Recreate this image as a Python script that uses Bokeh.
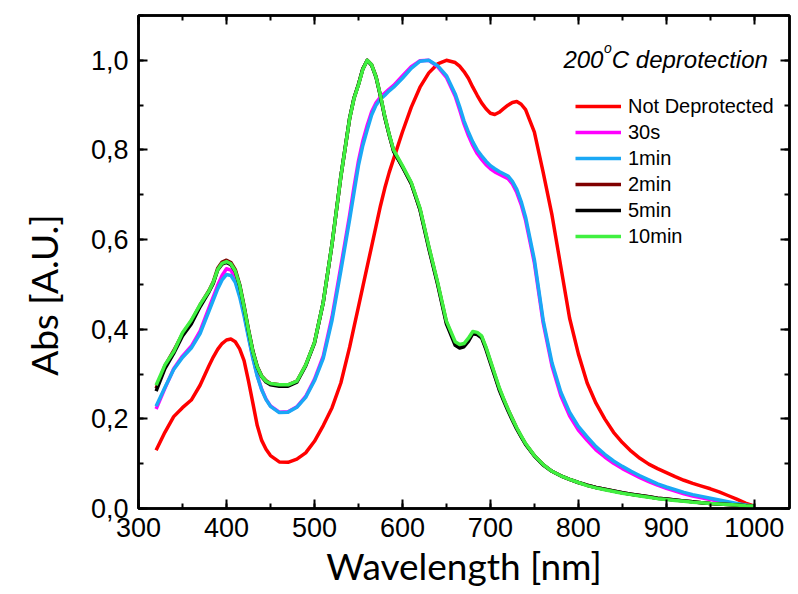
from bokeh.plotting import figure
from bokeh.embed import file_html
from bokeh.resources import INLINE
from bokeh.models import (Range1d, LinearAxis, SingleIntervalTicker,
                          CustomJSTickFormatter, Label)

# ---------------- data ----------------
wavelength = [320, 330, 340, 350, 360, 370,
              380, 385, 390, 395, 400, 405, 410, 415, 420, 425, 430, 435, 440, 445, 450,
              460, 470, 480, 490, 500, 510, 520, 530, 540,
              545, 550, 555, 560, 565, 570, 575, 580, 585, 590,
              600, 610, 620, 630, 640, 650, 660,
              665, 670, 675, 680, 685, 690, 695, 700, 705, 710, 715, 720, 725, 730, 735, 740,
              750, 760, 770, 780, 790, 800, 810, 820, 830, 840, 850, 860, 870, 880, 890,
              900, 910, 920, 930, 940, 950, 960, 970, 980, 990, 1000]

not_deprotected = [0.130, 0.170, 0.205, 0.225, 0.242, 0.275,
                   0.318, 0.338, 0.355, 0.368, 0.376, 0.378, 0.372, 0.356, 0.330, 0.285, 0.235, 0.185, 0.152, 0.132, 0.118,
                   0.104, 0.103, 0.110, 0.124, 0.150, 0.185, 0.225, 0.280, 0.360,
                   0.405, 0.450, 0.495, 0.540, 0.585, 0.630, 0.675, 0.715, 0.750, 0.780,
                   0.840, 0.895, 0.940, 0.972, 0.992, 1.000, 0.995,
                   0.987, 0.975, 0.960, 0.940, 0.922, 0.905, 0.892, 0.882, 0.879, 0.884, 0.892, 0.900, 0.906, 0.908, 0.902, 0.890,
                   0.840, 0.750, 0.655, 0.540, 0.425, 0.345, 0.280, 0.235, 0.200, 0.170, 0.147, 0.128, 0.112, 0.099, 0.089,
                   0.080, 0.071, 0.063, 0.056, 0.050, 0.044, 0.037, 0.029, 0.021, 0.012, 0.005]

s30 = [0.222, 0.268, 0.312, 0.340, 0.362, 0.396,
       0.447, 0.472, 0.498, 0.520, 0.535, 0.532, 0.515, 0.480, 0.435, 0.385, 0.337, 0.297, 0.266, 0.244, 0.229,
       0.215, 0.216, 0.227, 0.250, 0.288, 0.340, 0.428, 0.540, 0.655,
       0.718, 0.775, 0.820, 0.855, 0.885, 0.905, 0.918, 0.927, 0.936, 0.944,
       0.965, 0.986, 0.999, 1.000, 0.986, 0.962, 0.920,
       0.890, 0.858, 0.832, 0.810, 0.792, 0.779, 0.767, 0.758, 0.751, 0.746, 0.741, 0.736, 0.724, 0.705, 0.678, 0.643,
       0.548, 0.414, 0.318, 0.252, 0.207, 0.175, 0.152, 0.131, 0.115, 0.101, 0.089, 0.079, 0.069, 0.060, 0.052,
       0.045, 0.039, 0.033, 0.028, 0.024, 0.020, 0.016, 0.013, 0.010, 0.007, 0.004]

min1 = [0.228, 0.270, 0.310, 0.337, 0.358, 0.390,
        0.440, 0.465, 0.490, 0.510, 0.522, 0.520, 0.505, 0.472, 0.430, 0.382, 0.335, 0.295, 0.265, 0.243, 0.228,
        0.214, 0.215, 0.226, 0.248, 0.285, 0.335, 0.420, 0.530, 0.645,
        0.705, 0.765, 0.810, 0.845, 0.878, 0.900, 0.913, 0.922, 0.932, 0.940,
        0.960, 0.982, 0.998, 1.000, 0.988, 0.966, 0.925,
        0.897, 0.865, 0.840, 0.818, 0.800, 0.787, 0.775, 0.765, 0.758, 0.752, 0.747, 0.742, 0.730, 0.712, 0.685, 0.650,
        0.555, 0.420, 0.325, 0.260, 0.215, 0.183, 0.160, 0.138, 0.121, 0.106, 0.094, 0.083, 0.073, 0.064, 0.055,
        0.048, 0.042, 0.036, 0.031, 0.027, 0.023, 0.019, 0.015, 0.011, 0.008, 0.005]

min2 = [0.268, 0.318, 0.352, 0.390, 0.418, 0.454,
        0.486, 0.506, 0.536, 0.550, 0.554, 0.549, 0.533, 0.500, 0.452, 0.400, 0.352, 0.317, 0.296, 0.285, 0.279,
        0.276, 0.276, 0.284, 0.320, 0.370, 0.460, 0.590, 0.740, 0.870,
        0.916, 0.946, 0.981, 1.000, 0.990, 0.964, 0.921, 0.874, 0.834, 0.798,
        0.763, 0.726, 0.668, 0.583, 0.503, 0.416, 0.368,
        0.362, 0.364, 0.377, 0.393, 0.391, 0.383, 0.358, 0.328, 0.298, 0.268, 0.244, 0.221, 0.200, 0.179, 0.161, 0.144,
        0.118, 0.098, 0.083, 0.073, 0.065, 0.058, 0.052, 0.047, 0.043, 0.039, 0.035, 0.032, 0.029, 0.026, 0.023,
        0.021, 0.019, 0.017, 0.015, 0.013, 0.011, 0.010, 0.009, 0.008, 0.006, 0.005]

min5 = [0.262, 0.312, 0.346, 0.385, 0.412, 0.450,
        0.483, 0.502, 0.532, 0.545, 0.549, 0.544, 0.529, 0.497, 0.449, 0.397, 0.350, 0.315, 0.294, 0.282, 0.276,
        0.273, 0.273, 0.282, 0.318, 0.369, 0.460, 0.590, 0.741, 0.871,
        0.916, 0.946, 0.981, 1.000, 0.989, 0.962, 0.920, 0.872, 0.833, 0.797,
        0.762, 0.725, 0.666, 0.580, 0.500, 0.412, 0.364,
        0.358, 0.361, 0.373, 0.390, 0.388, 0.381, 0.355, 0.325, 0.295, 0.265, 0.241, 0.218, 0.197, 0.177, 0.160, 0.143,
        0.117, 0.097, 0.083, 0.073, 0.065, 0.058, 0.052, 0.047, 0.043, 0.039, 0.035, 0.032, 0.029, 0.026, 0.023,
        0.021, 0.019, 0.017, 0.015, 0.013, 0.011, 0.010, 0.009, 0.008, 0.006, 0.004]

min10 = [0.275, 0.320, 0.350, 0.392, 0.420, 0.455,
         0.485, 0.505, 0.533, 0.547, 0.551, 0.546, 0.530, 0.498, 0.450, 0.398, 0.350, 0.316, 0.295, 0.284, 0.279,
         0.276, 0.276, 0.284, 0.320, 0.370, 0.460, 0.590, 0.740, 0.870,
         0.915, 0.945, 0.980, 1.000, 0.990, 0.963, 0.922, 0.875, 0.835, 0.800,
         0.765, 0.728, 0.670, 0.585, 0.505, 0.418, 0.372,
         0.366, 0.368, 0.380, 0.395, 0.393, 0.385, 0.360, 0.330, 0.300, 0.270, 0.245, 0.222, 0.200, 0.180, 0.162, 0.145,
         0.118, 0.098, 0.083, 0.073, 0.065, 0.058, 0.051, 0.046, 0.042, 0.038, 0.034, 0.031, 0.028, 0.025, 0.022,
         0.020, 0.018, 0.016, 0.014, 0.013, 0.011, 0.010, 0.009, 0.008, 0.006, 0.005]

series = [("Not Deprotected", not_deprotected, "#FF0000"),
          ("30s", s30, "#FF00FF"),
          ("1min", min1, "#1AA8F5"),
          ("2min", min2, "#800000"),
          ("5min", min5, "#000000"),
          ("10min", min10, "#40F040")]

x_ticks_interval = 100
y_ticks_interval = 0.2

# ---------------- figure ----------------
p = figure(width=798, height=594, output_backend="svg", toolbar_location=None,
           x_range=Range1d(300, 1040), y_range=Range1d(0, 1.1),
           min_border_left=138, min_border_right=9, min_border_top=15,
           min_border_bottom=86, x_axis_type=None, y_axis_type=None)
p.grid.visible = False
p.outline_line_color = "black"
p.outline_line_width = 2.5
p.background_fill_color = "white"
p.border_fill_color = "white"

tick_font = "Liberation Sans"
title_font = "Lato"


def make_axis(interval, show_labels, fmt=None):
    ax = LinearAxis(ticker=SingleIntervalTicker(interval=interval, num_minor_ticks=2))
    ax.axis_line_color = "black"
    ax.axis_line_width = 2.5
    ax.major_tick_line_color = "black"
    ax.major_tick_line_width = 2
    ax.minor_tick_line_color = "black"
    ax.minor_tick_line_width = 2
    ax.major_tick_in = 9
    ax.major_tick_out = 0
    ax.minor_tick_in = 5
    ax.minor_tick_out = 0
    if fmt is not None:
        ax.formatter = fmt
    if show_labels:
        ax.major_label_text_font = tick_font
        ax.major_label_text_font_size = "27px"
        ax.major_label_text_color = "black"
    else:
        ax.formatter = CustomJSTickFormatter(code="return '';")
        ax.major_label_text_font_size = "10px"
        ax.major_label_standoff = 0
    return ax


xb = make_axis(x_ticks_interval, True)
xb.major_label_standoff = 9
xb.axis_label = "Wavelength [nm]"
xb.axis_label_text_font = title_font
xb.axis_label_text_font_size = "37px"
xb.axis_label_text_font_style = "normal"
xb.axis_label_text_color = "black"
xb.axis_label_standoff = 3
p.add_layout(xb, "below")

yfmt = CustomJSTickFormatter(code="return tick.toFixed(1).replace('.', ',');")
yl = make_axis(y_ticks_interval, True, yfmt)
yl.major_label_standoff = 10
# trailing no-break spaces move the visible title a little below the frame centre
yl.axis_label = "Abs [A.U.]" + "\u00a0" * 7
yl.axis_label_text_font = title_font
yl.axis_label_text_font_size = "37px"
yl.axis_label_text_font_style = "normal"
yl.axis_label_text_color = "black"
yl.axis_label_standoff = 22
p.add_layout(yl, "left")

p.add_layout(make_axis(x_ticks_interval, False), "above")
p.add_layout(make_axis(y_ticks_interval, False), "right")

for name, vals, col in series:
    p.line(wavelength, vals, line_color=col, line_width=3.5, line_join="round",
           legend_label=name)

lg = p.legend[0]
lg.location = (437, 259)
lg.label_text_font = tick_font
lg.label_text_font_size = "20px"
lg.label_text_color = "black"
lg.glyph_width = 46
lg.glyph_height = 26
lg.label_height = 26
lg.label_standoff = 7
lg.spacing = 0
lg.padding = 0
lg.margin = 0
lg.border_line_alpha = 0
lg.background_fill_alpha = 0

# annotation "200°C deprotection" with a superscript o
p.add_layout(Label(x=783, y=1.002, text="200", text_font=tick_font,
                   text_font_size="24px", text_font_style="italic",
                   text_color="black", text_baseline="alphabetic"))
p.add_layout(Label(x=829, y=1.027, text="o", text_font=tick_font,
                   text_font_size="14px", text_font_style="italic",
                   text_color="black", text_baseline="alphabetic"))
p.add_layout(Label(x=838, y=1.002, text="C deprotection", text_font=tick_font,
                   text_font_size="24px", text_font_style="italic",
                   text_color="black", text_baseline="alphabetic"))

open("out.html", "w").write(file_html(p, INLINE))
